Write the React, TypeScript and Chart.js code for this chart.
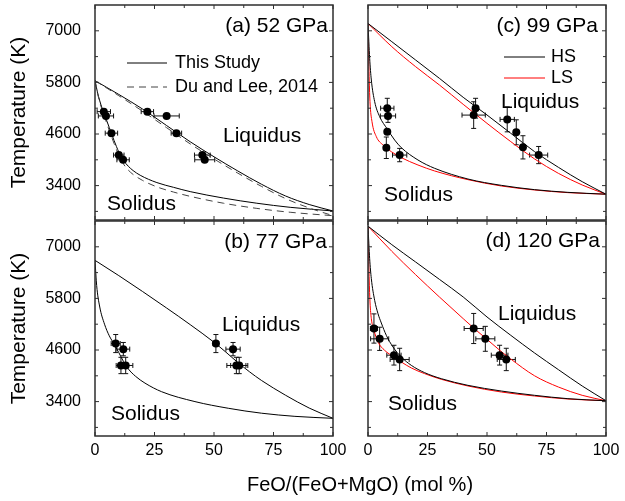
import React, { useEffect, useRef } from 'react';
import { Chart, registerables } from 'chart.js';

Chart.register(...registerables);

const FONT = '"Liberation Sans", Arial, Helvetica, sans-serif';
Chart.defaults.font.family = FONT;

// ---- axes ----
const xRange = [0, 100];
const yRange = [2600, 7600];
const xMajorTicks = [0, 25, 50, 75, 100];
const xMinorTicks = [12.5, 37.5, 62.5, 87.5];
const yMajorTicks = [3400, 4600, 5800, 7000];
const yMinorTicks = [2800, 4000, 5200, 6400];
const yTitle = 'Temperature (K)';
const xTitle = 'FeO/(FeO+MgO) (mol %)';

// ---- (a) 52 GPa ----
const aLiqX = [0, 10, 20, 30, 40, 50, 60, 70, 80, 90, 100];
const aLiqT = [5840, 5520, 5180, 4800, 4420, 4070, 3740, 3430, 3160, 2960, 2810];
const aSolX = [0, 1, 2, 3, 4, 5, 6, 7, 8, 9, 10, 11, 12, 14, 16, 19, 26, 33, 40, 54, 68, 82, 100];
const aSolT = [5840, 5580, 5370, 5200, 5050, 4900, 4750, 4600, 4450, 4310, 4180, 4070, 3980, 3850, 3750, 3640, 3470, 3360, 3260, 3110, 2990, 2895, 2810];
const aDuLiqX = [0, 10, 20, 30, 40, 50, 60, 70, 80, 90, 100];
const aDuLiqT = [5840, 5490, 5130, 4750, 4370, 4020, 3690, 3380, 3100, 2880, 2700];
const aDuSolX = [0, 1, 2, 3, 4, 5, 6, 7, 8, 9, 10, 12, 14, 16, 20, 26, 33, 40, 54, 68, 82, 100];
const aDuSolT = [5840, 5560, 5340, 5160, 5000, 4840, 4680, 4530, 4380, 4240, 4110, 3900, 3760, 3660, 3520, 3370, 3250, 3150, 2990, 2870, 2780, 2700];
const aPtsX = [3.7, 4.6, 6.9, 10.0, 11.8, 22.0, 30.1, 34.2, 45.1, 46.1];
const aPtsT = [5120, 5020, 4620, 4110, 4000, 5120, 5020, 4620, 4110, 4000];
const aErrX = [2.8, 3.2, 2.6, 2.2, 2.6, 2.6, 5.3, 2.2, 3.3, 4.2];
const aErrT = [0, 0, 0, 0, 0, 0, 0, 0, 0, 0];

// ---- (b) 77 GPa ----
const bLiqX = [0, 10, 20, 30, 40, 50, 55, 60, 65, 70, 80, 90, 100];
const bLiqT = [6685, 6330, 5960, 5580, 5190, 4780, 4550, 4310, 4090, 3890, 3550, 3250, 3011];
const bSolX = [0, 0.7, 2, 4, 6, 8, 10, 12, 14, 17, 21, 28, 42, 56, 70, 84, 100];
const bSolT = [6685, 6100, 5600, 5200, 4930, 4740, 4540, 4330, 4160, 3990, 3830, 3630, 3400, 3245, 3130, 3057, 3011];
const bPtsX = [8.7, 11.9, 10.9, 12.9, 50.8, 58.0, 59.4, 60.6];
const bPtsT = [4750, 4620, 4240, 4240, 4750, 4620, 4240, 4240];
const bErrX = [1.9, 2.7, 2.0, 3.0, 1.2, 3.0, 4.0, 3.6];
const bErrT = [210, 155, 190, 190, 210, 155, 190, 190];

// ---- (c) 99 GPa ----
const cLiqHSX = [0, 10, 20, 30, 40, 50, 60, 70, 80, 90, 100];
const cLiqHST = [7170, 6747, 6321, 5895, 5453, 5042, 4616, 4189, 3825, 3491, 3200];
const cLiqLSX = [0, 10, 20, 30, 40, 50, 60, 70, 80, 90, 100];
const cLiqLST = [7170, 6631, 6166, 5740, 5290, 4848, 4422, 4019, 3685, 3414, 3200];
const cSolHSX = [0, 0.7, 1.4, 2.8, 4.9, 8.1, 11.2, 14.0, 21.0, 28.0, 42.0, 56.0, 70.0, 84.0, 100];
const cSolHST = [7170, 6360, 5856, 5352, 5003, 4716, 4460, 4282, 3995, 3802, 3553, 3406, 3306, 3243, 3200];
const cSolLSX = [0, 0.42, 0.84, 1.68, 3.5, 6.3, 9.8, 14.0, 21.0, 28.0, 42.0, 56.0, 70.0, 84.0, 100];
const cSolLST = [7170, 6050, 5352, 4887, 4538, 4344, 4189, 4050, 3879, 3740, 3538, 3391, 3298, 3236, 3200];
const cPtsX = [8.1, 8.4, 8.1, 7.7, 13.3, 45.2, 44.4, 58.5, 62.3, 65.1, 71.7];
const cPtsT = [5200, 5020, 4650, 4280, 4110, 5200, 5040, 4940, 4640, 4290, 4110];
const cErrX = [2.8, 3.2, 0, 0, 3.0, 0, 4.9, 3.0, 0, 0, 3.8];
const cErrT = [230, 150, 0, 250, 155, 230, 310, 290, 290, 270, 200];

// ---- (d) 120 GPa ----
const dLiqHSX = [0, 10, 20, 30, 40, 50, 60, 70, 80, 90, 100];
const dLiqHST = [7480, 7050, 6647, 6243, 5833, 5368, 4941, 4530, 4143, 3763, 3420];
const dLiqLSX = [0, 10, 20, 30, 40, 45, 50, 55, 60, 70, 80, 90, 100];
const dLiqLST = [7480, 6895, 6352, 5833, 5329, 5081, 4848, 4610, 4390, 4000, 3739, 3546, 3420];
const dSolHSX = [0, 0.7, 1.4, 2.8, 4.2, 5.6, 7.7, 10.5, 14.0, 18.2, 23.8, 30.8, 42.0, 56.0, 70.0, 84.0, 100];
const dSolHST = [7480, 6724, 6259, 5755, 5445, 5228, 4941, 4670, 4437, 4243, 4073, 3933, 3778, 3646, 3546, 3468, 3420];
const dSolLSX = [0, 0.42, 0.84, 1.4, 2.5, 4.2, 7.0, 10.9, 14.0, 18.2, 23.8, 30.8, 42.0, 56.0, 70.0, 84.0, 100];
const dSolLST = [7480, 6414, 5717, 5329, 5058, 4786, 4592, 4437, 4321, 4182, 4050, 3918, 3763, 3623, 3530, 3460, 3420];
const dPtsX = [2.5, 4.9, 10.9, 13.3, 44.4, 49.3, 55.3, 58.1];
const dPtsT = [5100, 4860, 4480, 4380, 5100, 4860, 4480, 4380];
const dErrX = [1.5, 3.8, 3.0, 4.0, 4.0, 4.0, 3.5, 3.8];
const dErrT = [340, 270, 230, 260, 350, 290, 230, 260];

const BLACK = '#000000';
const RED = '#ff0000';
const DASHGRAY = '#444444';
const FRAME = '#2e2e2e';

type Curve = { x: number[]; y: number[]; color: string; dash?: number[] };
type TextItem = { t: string; dx: number; dy: number; size: number; align?: CanvasTextAlign };
type LegendLine = { dx0: number; dx1: number; dy: number; color: string; dash?: number[] };
type Panel = {
  id: string;
  box: { left: number; top: number; w: number; h: number };
  padTop: number; padRight: number; yW: number; xH: number;
  showY: boolean; showX: boolean;
  curves: Curve[];
  pts: { x: number[]; y: number[]; ex: number[]; ey: number[] };
  texts: TextItem[];
  legend: LegendLine[];
};

const panels: Panel[] = [
  {
    id: 'a', box: { left: 0, top: 0, w: 348, h: 225 }, padTop: 5, padRight: 15, yW: 95, xH: 5,
    showY: true, showX: false,
    curves: [
      { x: aDuLiqX, y: aDuLiqT, color: DASHGRAY, dash: [7, 5] },
      { x: aDuSolX, y: aDuSolT, color: DASHGRAY, dash: [7, 5] },
      { x: aLiqX, y: aLiqT, color: BLACK },
      { x: aSolX, y: aSolT, color: BLACK },
    ],
    pts: { x: aPtsX, y: aPtsT, ex: aErrX, ey: aErrT },
    texts: [
      { t: '(a) 52 GPa', dx: 233, dy: 21, size: 21, align: 'right' },
      { t: 'This Study', dx: 80, dy: 58, size: 18 },
      { t: 'Du and Lee, 2014', dx: 80, dy: 82, size: 18 },
      { t: 'Liquidus', dx: 128, dy: 131, size: 21 },
      { t: 'Solidus', dx: 12, dy: 199, size: 21 },
    ],
    legend: [
      { dx0: 32, dx1: 72, dy: 58, color: BLACK },
      { dx0: 32, dx1: 72, dy: 82, color: DASHGRAY, dash: [7, 5] },
    ],
  },
  {
    id: 'b', box: { left: 0, top: 216, w: 348, h: 285 }, padTop: 5, padRight: 15, yW: 95, xH: 65,
    showY: true, showX: true,
    curves: [
      { x: bLiqX, y: bLiqT, color: BLACK },
      { x: bSolX, y: bSolT, color: BLACK },
    ],
    pts: { x: bPtsX, y: bPtsT, ex: bErrX, ey: bErrT },
    texts: [
      { t: '(b) 77 GPa', dx: 232, dy: 21, size: 21, align: 'right' },
      { t: 'Liquidus', dx: 127, dy: 104, size: 21 },
      { t: 'Solidus', dx: 16, dy: 193, size: 21 },
    ],
    legend: [],
  },
  {
    id: 'c', box: { left: 340, top: 0, w: 285, h: 225 }, padTop: 5, padRight: 19, yW: 28, xH: 5,
    showY: false, showX: false,
    curves: [
      { x: cLiqHSX, y: cLiqHST, color: BLACK },
      { x: cSolHSX, y: cSolHST, color: BLACK },
      { x: cLiqLSX, y: cLiqLST, color: RED },
      { x: cSolLSX, y: cSolLST, color: RED },
    ],
    pts: { x: cPtsX, y: cPtsT, ex: cErrX, ey: cErrT },
    texts: [
      { t: '(c) 99 GPa', dx: 230, dy: 21, size: 21, align: 'right' },
      { t: 'HS', dx: 183, dy: 52, size: 18 },
      { t: 'LS', dx: 183, dy: 73, size: 18 },
      { t: 'Liquidus', dx: 133, dy: 97, size: 21 },
      { t: 'Solidus', dx: 16, dy: 190, size: 21 },
    ],
    legend: [
      { dx0: 136, dx1: 177, dy: 52, color: BLACK },
      { dx0: 136, dx1: 177, dy: 73, color: RED },
    ],
  },
  {
    id: 'd', box: { left: 340, top: 216, w: 285, h: 285 }, padTop: 5, padRight: 19, yW: 28, xH: 65,
    showY: false, showX: true,
    curves: [
      { x: dLiqHSX, y: dLiqHST, color: BLACK },
      { x: dSolHSX, y: dSolHST, color: BLACK },
      { x: dLiqLSX, y: dLiqLST, color: RED },
      { x: dSolLSX, y: dSolLST, color: RED },
    ],
    pts: { x: dPtsX, y: dPtsT, ex: dErrX, ey: dErrT },
    texts: [
      { t: '(d) 120 GPa', dx: 232, dy: 20, size: 21, align: 'right' },
      { t: 'Liquidus', dx: 130, dy: 93, size: 21 },
      { t: 'Solidus', dx: 20, dy: 183, size: 21 },
    ],
    legend: [],
  },
];

function toPts(xs: number[], ys: number[]) {
  return xs.map((x, i) => ({ x, y: ys[i] }));
}

function PanelChart({ cfg }: { cfg: Panel }) {
  const ref = useRef<HTMLCanvasElement>(null);
  useEffect(() => {
    const canvas = ref.current;
    if (!canvas) return;

    const decor = {
      id: 'decor_' + cfg.id,
      beforeDatasetsDraw(chart: any) {
        const ctx = chart.ctx as CanvasRenderingContext2D;
        const xs = chart.scales.x;
        const ys = chart.scales.y;
        ctx.save();
        ctx.strokeStyle = '#111';
        ctx.lineWidth = 1;
        const seg = (x0: number, y0: number, x1: number, y1: number) => {
          ctx.beginPath();
          ctx.moveTo(x0, y0);
          ctx.lineTo(x1, y1);
          ctx.stroke();
        };
        cfg.pts.x.forEach((xv, i) => {
          const yv = cfg.pts.y[i];
          const cx = xs.getPixelForValue(xv);
          const cy = ys.getPixelForValue(yv);
          const ex = cfg.pts.ex[i];
          const ey = cfg.pts.ey[i];
          if (ex) {
            const l = xs.getPixelForValue(xv - ex);
            const r = xs.getPixelForValue(xv + ex);
            seg(l, cy, r, cy);
            seg(l, cy - 2.5, l, cy + 2.5);
            seg(r, cy - 2.5, r, cy + 2.5);
          }
          if (ey) {
            const t = ys.getPixelForValue(yv + ey);
            const b = ys.getPixelForValue(yv - ey);
            seg(cx, t, cx, b);
            seg(cx - 2.5, t, cx + 2.5, t);
            seg(cx - 2.5, b, cx + 2.5, b);
          }
        });
        ctx.restore();
      },
      afterDraw(chart: any) {
        const ctx = chart.ctx as CanvasRenderingContext2D;
        const { left, right, top, bottom } = chart.chartArea;
        const xs = chart.scales.x;
        const ys = chart.scales.y;
        ctx.save();
        // ticks (inward, all four sides)
        ctx.strokeStyle = FRAME;
        ctx.lineWidth = 1;
        const tickX = (v: number, len: number) => {
          const p = xs.getPixelForValue(v);
          ctx.beginPath();
          ctx.moveTo(p, bottom); ctx.lineTo(p, bottom - len);
          ctx.moveTo(p, top); ctx.lineTo(p, top + len);
          ctx.stroke();
        };
        const tickY = (v: number, len: number) => {
          const p = ys.getPixelForValue(v);
          ctx.beginPath();
          ctx.moveTo(left, p); ctx.lineTo(left + len, p);
          ctx.moveTo(right, p); ctx.lineTo(right - len, p);
          ctx.stroke();
        };
        xMajorTicks.forEach((v) => tickX(v, 4));
        xMinorTicks.forEach((v) => tickX(v, 3));
        yMajorTicks.forEach((v) => tickY(v, 4));
        yMinorTicks.forEach((v) => tickY(v, 3));
        // frame
        ctx.lineWidth = 1.5;
        ctx.strokeRect(left, top, right - left, bottom - top);
        // legend lines
        cfg.legend.forEach((lg) => {
          ctx.beginPath();
          ctx.strokeStyle = lg.color;
          ctx.lineWidth = 1;
          ctx.setLineDash(lg.dash || []);
          ctx.moveTo(left + lg.dx0, top + lg.dy);
          ctx.lineTo(left + lg.dx1, top + lg.dy);
          ctx.stroke();
        });
        ctx.setLineDash([]);
        // texts
        ctx.fillStyle = '#000';
        ctx.textBaseline = 'middle';
        cfg.texts.forEach((tx) => {
          ctx.font = `${tx.size}px ${FONT}`;
          ctx.textAlign = tx.align || 'left';
          ctx.fillText(tx.t, left + tx.dx, top + tx.dy);
        });
        ctx.restore();
      },
    };

    const datasets: any[] = cfg.curves.map((c) => ({
      type: 'line',
      data: toPts(c.x, c.y),
      borderColor: c.color,
      borderWidth: 1,
      borderDash: c.dash || [],
      pointRadius: 0,
      pointHoverRadius: 0,
      fill: false,
      cubicInterpolationMode: 'monotone',
      order: 2,
    }));
    datasets.push({
      type: 'scatter',
      data: toPts(cfg.pts.x, cfg.pts.y),
      backgroundColor: '#000',
      borderColor: '#000',
      borderWidth: 0,
      pointRadius: 4,
      pointHoverRadius: 4,
      order: 0,
    });

    const chart = new Chart(canvas, {
      type: 'scatter',
      data: { datasets },
      options: {
        responsive: false,
        animation: false,
        events: [],
        layout: { padding: { left: 0, top: cfg.padTop, right: cfg.padRight, bottom: 0 } },
        plugins: { legend: { display: false }, tooltip: { enabled: false } },
        scales: {
          x: {
            type: 'linear',
            min: xRange[0],
            max: xRange[1],
            afterBuildTicks: (s: any) => { s.ticks = xMajorTicks.map((v) => ({ value: v })); },
            afterFit: (s: any) => {
              s.height = cfg.xH;
              s.paddingLeft = 0; s.paddingRight = 0; s.paddingTop = 0; s.paddingBottom = 0;
            },
            grid: { display: false, drawTicks: false },
            border: { display: false },
            ticks: {
              display: cfg.showX, padding: 5, color: '#000', font: { size: 16, family: FONT }, maxRotation: 0,
              callback: (v: any) => String(v),
            },
          },
          y: {
            type: 'linear',
            min: yRange[0],
            max: yRange[1],
            afterBuildTicks: (s: any) => { s.ticks = yMajorTicks.map((v) => ({ value: v })); },
            afterFit: (s: any) => {
              s.width = cfg.yW;
              s.paddingLeft = 0; s.paddingRight = 0; s.paddingTop = 0; s.paddingBottom = 0;
            },
            grid: { display: false, drawTicks: false },
            border: { display: false },
            ticks: {
              display: cfg.showY, padding: 14, color: '#000', font: { size: 16, family: FONT },
              callback: (v: any) => String(v),
            },
            title: {
              display: cfg.showY,
              text: yTitle,
              color: '#000',
              font: { size: 21, family: FONT },
              padding: { top: 7, bottom: 0 },
            },
          },
        },
      } as any,
      plugins: [decor],
    });
    return () => chart.destroy();
  }, [cfg]);

  return (
    <canvas
      ref={ref}
      width={cfg.box.w}
      height={cfg.box.h}
      style={{ position: 'absolute', left: cfg.box.left, top: cfg.box.top, width: cfg.box.w, height: cfg.box.h }}
    />
  );
}

export default function App() {
  return (
    <div style={{ position: 'absolute', left: 0, top: 0, width: 625, height: 501, background: '#fff', overflow: 'hidden', fontFamily: FONT }}>
      {panels.map((p) => (
        <PanelChart key={p.id} cfg={p} />
      ))}
      <div
        style={{
          position: 'absolute', left: 210, top: 472, width: 300, textAlign: 'center',
          fontSize: 20, lineHeight: '24px', color: '#000', whiteSpace: 'nowrap',
        }}
      >
        {xTitle}
      </div>
    </div>
  );
}
